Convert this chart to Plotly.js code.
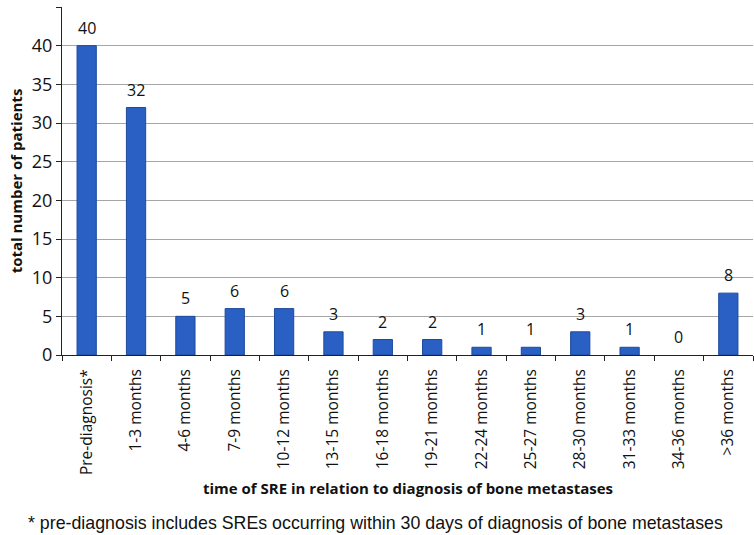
<!DOCTYPE html>
<html>
<head>
<meta charset="utf-8">
<script src="https://cdn.plot.ly/plotly-3.0.1.min.js"></script>
<style>
  html, body { margin: 0; padding: 0; background: #fff; }
  #chart { width: 754px; height: 535px; }
</style>
</head>
<body>
<div id="chart"></div>
<script>
// Time of SRE relative to diagnosis of bone metastases
const categories = [
    'Pre-diagnosis*', '1-3 months', '4-6 months', '7-9 months', '10-12 months',
    '13-15 months', '16-18 months', '19-21 months', '22-24 months', '25-27 months',
    '28-30 months', '31-33 months', '34-36 months', '>36 months'
];
const patients = [40, 32, 5, 6, 6, 3, 2, 2, 1, 1, 3, 1, 0, 8];
const yTicks = [0, 5, 10, 15, 20, 25, 30, 35, 40, 45];

const FONT = 'Open Sans, Liberation Sans, sans-serif';

const trace = {
    type: 'bar',
    x: categories,
    y: patients,
    width: 0.39,
    marker: {
        color: '#2a5fc4',
        // no outline on empty bars
        line: { color: '#1d4a9c', width: patients.map(v => v > 0 ? 1 : 0) }
    },
    hoverinfo: 'x+y'
};

// value labels sit a bit above each bar
const valueLabels = categories.map((c, i) => ({
    x: c,
    y: patients[i],
    xref: 'x', yref: 'y',
    text: String(patients[i]),
    showarrow: false,
    yanchor: 'middle',
    yshift: 18,
    font: { family: FONT, size: 16, color: '#111' }
}));

const layout = {
    width: 754,
    height: 535,
    margin: { l: 62, r: 1, t: 7, b: 180 },
    paper_bgcolor: '#fff',
    plot_bgcolor: '#fff',
    font: { family: FONT, color: '#111' },
    showlegend: false,
    xaxis: {
        type: 'category',
        tickangle: -90,
        tickfont: { family: FONT, size: 15.5, color: '#111' },
        ticks: 'outside',
        tickson: 'boundaries',
        ticklen: 5,
        tickcolor: '#222',
        ticklabelstandoff: 7,
        showline: true,
        linecolor: '#222',
        linewidth: 1,
        showgrid: false
    },
    yaxis: {
        range: [0, 45],
        tickvals: yTicks,
        tickfont: { family: FONT, size: 18, color: '#111' },
        ticks: 'outside',
        ticklen: 5,
        tickcolor: '#222',
        showline: true,
        linecolor: '#222',
        linewidth: 1,
        showgrid: true,
        gridcolor: '#a6a6a6',
        gridwidth: 1,
        zeroline: false,
        title: {
            text: '<b>total number of patients</b>',
            font: { family: FONT, size: 15, color: '#111' },
            standoff: 5
        }
    },
    annotations: valueLabels.concat([{
        xref: 'paper', yref: 'paper',
        x: 0.5, y: 0,
        yshift: -133,
        xanchor: 'center', yanchor: 'middle',
        showarrow: false,
        text: '<b>time of SRE in relation to diagnosis of bone metastases</b>',
        font: { family: FONT, size: 15, color: '#111' }
    }, {
        xref: 'paper', yref: 'paper',
        x: 0.454, y: 0,
        yshift: -168,
        xanchor: 'center', yanchor: 'middle',
        showarrow: false,
        text: '* pre-diagnosis includes SREs occurring within 30 days of diagnosis of bone metastases',
        font: { family: 'Liberation Sans, Arial, sans-serif', size: 17.8, color: '#111' }
    }])
};

Plotly.newPlot('chart', [trace], layout, { displayModeBar: false, staticPlot: true });
</script>
</body>
</html>
